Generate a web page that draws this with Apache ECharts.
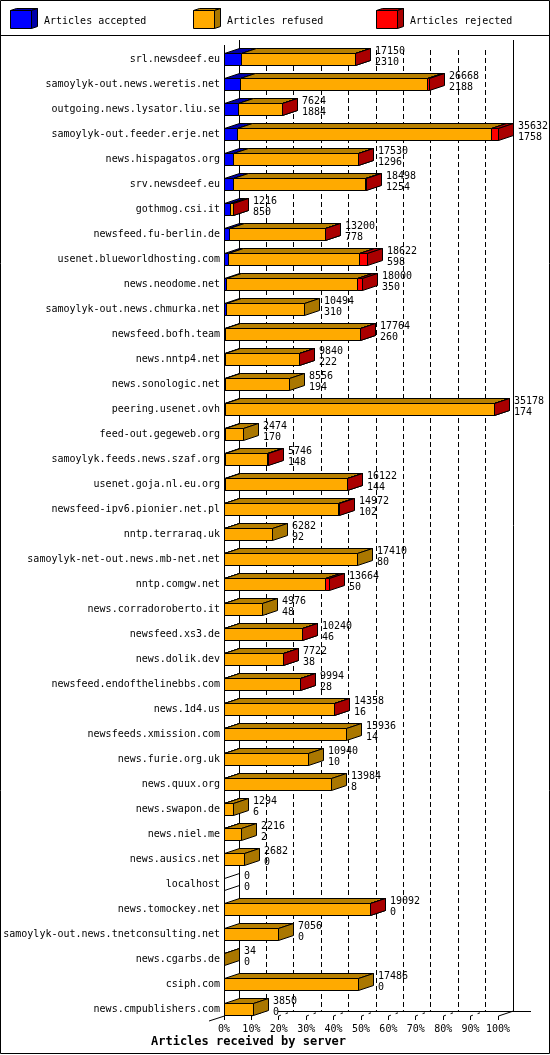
<!DOCTYPE html>
<html><head><meta charset="utf-8">
<style>html,body{margin:0;padding:0;background:#fff}#c{width:550px;height:1055px}</style>
<script src="https://cdn.jsdelivr.net/npm/echarts@6/dist/echarts.min.js"></script>
</head><body><div id="c"></div>
<script>
const servers = ["srl.newsdeef.eu","samoylyk-out.news.weretis.net","outgoing.news.lysator.liu.se","samoylyk-out.feeder.erje.net","news.hispagatos.org","srv.newsdeef.eu","gothmog.csi.it","newsfeed.fu-berlin.de","usenet.blueworldhosting.com","news.neodome.net","samoylyk-out.news.chmurka.net","newsfeed.bofh.team","news.nntp4.net","news.sonologic.net","peering.usenet.ovh","feed-out.gegeweb.org","samoylyk.feeds.news.szaf.org","usenet.goja.nl.eu.org","newsfeed-ipv6.pionier.net.pl","nntp.terraraq.uk","samoylyk-net-out.news.mb-net.net","nntp.comgw.net","news.corradoroberto.it","newsfeed.xs3.de","news.dolik.dev","newsfeed.endofthelinebbs.com","news.1d4.us","newsfeeds.xmission.com","news.furie.org.uk","news.quux.org","news.swapon.de","news.niel.me","news.ausics.net","localhost","news.tomockey.net","samoylyk-out.news.tnetconsulting.net","news.cgarbs.de","csiph.com","news.cmpublishers.com"];
const totals = [17150,26668,7624,35632,17530,18498,1216,13200,18622,18000,10494,17764,9840,8556,35178,2474,5746,16122,14972,6282,17410,13664,4976,10240,7722,9994,14358,15936,10940,13984,1294,2216,2682,0,19092,7056,34,17486,3850];
const accepted = [2310,2188,1884,1758,1296,1254,850,778,598,350,310,260,222,194,174,170,148,144,102,92,80,50,48,46,38,28,16,14,10,8,6,2,0,0,0,0,0,0,0];
const rejected = [40,150,40,850,40,40,30,40,1040,700,0,40,30,0,30,0,30,30,30,0,0,480,0,30,30,30,30,0,0,0,0,0,0,0,30,0,0,0,0];
const percentTicks = [0,10,20,30,40,50,60,70,80,90,100];
const legendNames = ["Articles accepted","Articles refused","Articles rejected"];
const axisTitle = "Articles received by server";
const scaleMax = 35632;

const FONT = '"DejaVu Sans Mono", monospace';
const FACE = ['#0000ff','#ffaa00','#ff0000'];
const TOPC = ['#0000aa','#b88000','#aa0000'];
const SIDE = ['#0000aa','#aa7700','#aa0000'];
const DX = 15, DY = 5, HALF = 6;
const snap = v => Math.floor(v) + 0.5;
const stroke = {stroke:'#000', lineWidth:1};
const poly = (pts, fill) => ({type:'polygon', shape:{points:pts}, style:Object.assign({fill}, stroke)});
const line = (x1,y1,x2,y2,dash) => ({type:'line', shape:{x1,y1,x2,y2}, style:{stroke:'#000', lineWidth:1, fill:null, lineDash:dash||null}});

function box(x0, x1, cy, k){
  const t = cy-HALF, b = cy+HALF;
  return [
    poly([[x0,t],[x0+DX,t-DY],[x1+DX,t-DY],[x1,t]], TOPC[k]),
    poly([[x1,t],[x1+DX,t-DY],[x1+DX,b-DY],[x1,b]], SIDE[k]),
    poly([[x0,t],[x1,t],[x1,b],[x0,b]], FACE[k])
  ];
}

function renderFrame(params, api){
  const tick = api.value(0);
  const fx = snap(api.coord([tick, 0])[0]);
  const bx = snap(api.coord([tick, 0])[0] + DX);
  const kids = [];
  if (tick === 0 || tick === 100) kids.push(line(bx,40,bx,1011));
  else kids.push(line(bx,50,bx,1011,[5,3]));
  if (tick === 0) { kids.push(line(fx,45,fx,1020)); kids.push(line(209,1021,fx,1016)); kids.push(line(278,1011.5,531,1011.5)); }
  else {
    kids.push(line(fx,1016,fx,1020));
    if (tick === 100) kids.push(line(fx,1016,bx,1011));
    else kids.push(line(fx,1016,bx,1011,[2.5,5]));
  }
  return {type:'group', children:kids};
}

function renderBar(params, api){
  const row = api.value(0);
  const total = api.value(1), acc = api.value(2), rej = api.value(3);
  const cy = api.coord([0,row])[1];
  const px = v => snap(api.coord([v/scaleMax*100,row])[0]);
  const x0 = px(0), xa = px(acc), xr = px(total-rej), xt = px(total);
  const kids = [];
  if (total === 0) {
    kids.push(line(x0,cy-HALF,x0+DX,cy-HALF-DY));
    kids.push(line(x0,cy+HALF,x0+DX,cy+HALF-DY));
  } else {
    if (acc > 0) kids.push(...box(x0,xa,cy,0));
    if (total-rej-acc > 0) kids.push(...box(xa,xr,cy,1));
    if (rej > 0) kids.push(...box(xr,xt,cy,2));
  }
  const tx = xt + 19.5;
  [[total,-8],[acc,2.5]].forEach(([v,d]) => kids.push({type:'text', style:{x:tx,y:cy+d,text:String(v),fill:'#000',font:'10px '+FONT,align:'left',verticalAlign:'middle'}}));
  return {type:'group', children:kids};
}

const legendX = [[10.5,44.5],[193.5,227.5],[376.5,410.5]];
const graphics = [
  {type:'rect', shape:{x:0.5,y:0.5,width:549,height:1053}, style:{fill:null,stroke:'#000',lineWidth:1}, silent:true},
  {type:'line', shape:{x1:0,y1:35.5,x2:550,y2:35.5}, style:{stroke:'#000',lineWidth:1}, silent:true}
];
legendNames.forEach((name,k)=>{
  const x = legendX[k][0], w = 21;
  graphics.push({type:'polygon', shape:{points:[[x,10.5],[x+6,8.5],[x+w+6,8.5],[x+w,10.5]]}, style:{fill:TOPC[k],stroke:'#000',lineWidth:1}});
  graphics.push({type:'polygon', shape:{points:[[x+w,10.5],[x+w+6,8.5],[x+w+6,26.5],[x+w,28.5]]}, style:{fill:SIDE[k],stroke:'#000',lineWidth:1}});
  graphics.push({type:'rect', shape:{x:x,y:10.5,width:w,height:18}, style:{fill:FACE[k],stroke:'#000',lineWidth:1}});
  graphics.push({type:'text', x:legendX[k][1]-0.5, y:21, style:{text:name,fill:'#000',font:'10px '+FONT,align:'left',verticalAlign:'middle'}});
});

const chart = echarts.init(document.getElementById('c'), null, {renderer:'canvas', width:550, height:1055});
chart.setOption({
  animation:false,
  backgroundColor:'#fff',
  title:{text:axisTitle,left:151,top:1035,padding:0,textStyle:{fontFamily:FONT,fontSize:12,fontWeight:'bold',color:'#000',lineHeight:14}},
  grid:{left:224,top:47,width:274,height:975,containLabel:false},
  xAxis:{type:'value',min:0,max:100,interval:10,axisLine:{show:false},axisTick:{show:false},splitLine:{show:false},
    axisLabel:{formatter:'{value}%',fontFamily:FONT,fontSize:10,color:'#000',margin:2,showMaxLabel:true,showMinLabel:true,hideOverlap:false}},
  yAxis:{type:'category',inverse:true,data:servers,axisLine:{show:false},axisTick:{show:false},splitLine:{show:false},
    axisLabel:{interval:0,fontFamily:FONT,fontSize:10,color:'#000',margin:4,hideOverlap:false,padding:[2,0,0,0]}},
  graphic:graphics,
  series:[
    {type:'custom',silent:true,clip:false,z:1,coordinateSystem:'cartesian2d',renderItem:renderFrame,
      encode:{x:0},data:percentTicks.map(t=>[t])},
    {type:'custom',silent:true,clip:false,z:2,coordinateSystem:'cartesian2d',renderItem:renderBar,
      encode:{y:0},data:servers.map((s,i)=>[i,totals[i],accepted[i],rejected[i]])}
  ]
});
</script></body></html>
